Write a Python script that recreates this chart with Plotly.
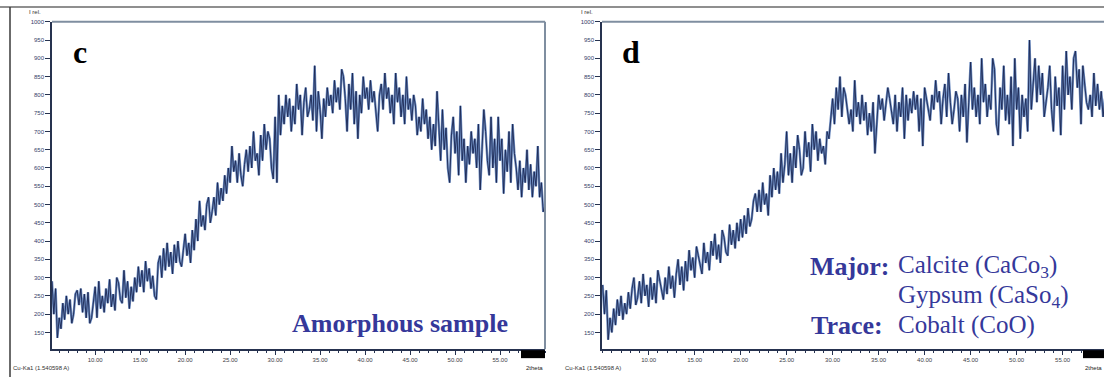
import plotly.graph_objects as go

# ---------------- data ----------------
two_theta_c_start = 5.2
intensity_c = [
    290, 200, 270, 135, 190,
    160, 230, 185, 250, 200,
    240, 175, 200, 255, 265,
    225, 270, 205, 255, 190,
    260, 175, 190, 240, 275,
    190, 290, 215, 250, 205,
    270, 230, 295, 220, 255,
    210, 300, 285, 240, 230,
    320, 245, 290, 215, 275,
    235, 300, 260, 330, 275,
    320, 260, 345, 290, 325,
    270, 305, 250, 240, 340,
    360, 300, 380, 320, 395,
    330, 370, 310, 390, 340,
    400, 345, 330, 375, 420,
    360, 395, 340, 430, 375,
    460, 400, 510, 440, 470,
    430, 500, 520, 450, 480,
    520, 470, 560, 500, 545,
    510, 580, 530, 600, 560,
    660, 590, 620, 560, 640,
    580, 550, 610, 650, 590,
    660, 600, 700, 620, 640,
    580, 690, 620, 720, 650,
    700, 680, 600, 570, 740,
    560, 800, 690, 770, 720,
    800, 740, 790, 700, 770,
    720, 830, 760, 800, 690,
    780, 820, 740, 760, 800,
    730, 880, 700, 810, 760,
    680, 790, 740, 820, 770,
    800, 750, 840, 780, 820,
    760, 870, 850, 790, 700,
    830, 760, 860, 720, 810,
    680, 800, 750, 850, 790,
    820, 760, 840, 780, 810,
    750, 700, 800, 830, 760,
    860, 790, 820, 750, 800,
    720, 860, 780, 820, 740,
    800, 720, 850, 760, 790,
    730, 800, 770, 690, 740,
    700, 790, 720, 760, 680,
    740, 650, 720, 660, 810,
    700, 620, 760, 650, 710,
    600, 560, 690, 740, 640,
    700, 580, 770, 620, 680,
    560, 660, 610, 700, 640,
    680, 600, 720, 540, 650,
    760, 700, 620, 580, 740,
    600, 680, 560, 740, 620,
    680, 530, 650, 590, 700,
    560, 720, 640, 600, 540,
    620, 520, 600, 560, 650,
    540, 610, 520, 590, 550,
    660, 520, 560, 480, 500,
]

two_theta_d_start = 5.0
intensity_d = [
    280, 200, 265, 130, 190,
    150, 215, 170, 240, 195,
    250, 185, 230, 200, 260,
    215, 270, 300, 225, 245,
    290, 230, 310, 250, 280,
    220, 300, 240, 285, 230,
    320, 290, 260, 240, 300,
    255, 330, 270, 305, 245,
    310, 350, 280, 330, 265,
    345, 290, 375, 320, 355,
    300, 385, 360, 330, 310,
    395, 340, 370, 320, 400,
    360, 420, 350, 390, 340,
    430, 410, 370, 360, 445,
    390, 430, 380, 450, 400,
    460, 410, 470, 420, 490,
    440, 460, 510, 530, 480,
    540, 480, 560, 500, 530,
    470, 580, 520, 600, 540,
    590, 530, 640, 560, 610,
    700, 580, 640, 560, 660,
    600, 690, 650, 580, 600,
    700, 630, 670, 590, 720,
    650, 700, 620, 680, 640,
    660, 610, 700, 680, 740,
    790, 720, 820, 760, 850,
    740, 820, 800, 750, 720,
    760, 700, 840, 740, 780,
    720, 800, 730, 780, 690,
    750, 700, 780, 640, 720,
    800, 760, 790, 730, 770,
    820, 790, 750, 720, 800,
    700, 780, 740, 820, 680,
    800, 730, 790, 750, 810,
    760, 800, 700, 790, 660,
    820, 790, 760, 730, 800,
    760, 840, 780, 810, 720,
    790, 830, 740, 860, 780,
    720, 760, 810, 790, 700,
    800, 740, 830, 670, 780,
    890, 760, 820, 740, 800,
    720, 900, 780, 830, 740,
    800, 760, 900, 870, 720,
    690, 820, 760, 880, 730,
    800, 720, 850, 660, 900,
    760, 820, 680, 800, 740,
    790, 700, 950, 760, 830,
    900, 780, 880, 800, 860,
    740, 780, 820, 880, 760,
    700, 850, 770, 820, 690,
    880, 760, 920, 800, 850,
    760, 900, 920, 820, 870,
    720, 880, 830, 780, 760,
    800, 740, 860, 770, 830,
    760, 810, 740, 790, 770,
]

step = 0.2
x_c = [round(two_theta_c_start + step * i, 2) for i in range(len(intensity_c))]
x_d = [round(two_theta_d_start + step * i, 2) for i in range(len(intensity_d))]

y_ticks = list(range(150, 1001, 50))
x_ticks = list(range(10, 56, 5))
x_tick_text = [f"{v:.2f}" for v in x_ticks]

# ---------------- geometry ----------------
W, H = 1104, 377
def px(x):
    return x / W
def py(y):
    return (H - y) / H

dom_c = [px(52), px(545)]
dom_d = [px(602), 1.0]
dom_y = [py(349), py(19)]

LIGHT = "#6f8ec2"
DARK = "#1b2752"
TXT = "#35389a"
AX = "#26324f"

fig = go.Figure()
for xs, ys, xa, ya in [(x_c, intensity_c, "x", "y"), (x_d, intensity_d, "x2", "y2")]:
    fig.add_trace(go.Scatter(x=xs, y=ys, xaxis=xa, yaxis=ya, mode="lines",
                             line=dict(color=LIGHT, width=2.4), hoverinfo="skip",
                             showlegend=False))
    fig.add_trace(go.Scatter(x=xs, y=ys, xaxis=xa, yaxis=ya, mode="lines",
                             line=dict(color=DARK, width=0.9),
                             showlegend=False))

xcommon = dict(showgrid=False, zeroline=False, showline=True, linecolor=AX, linewidth=1.5,
               ticks="outside", ticklen=4, tickwidth=1, tickcolor=AX,
               tickvals=x_ticks, ticktext=x_tick_text,
               tickfont=dict(size=6, color="#3c3c46", family="Liberation Sans"),
               minor=dict(dtick=1, ticks="outside", ticklen=2, tickcolor=AX))
ycommon = dict(showgrid=False, zeroline=False, showline=True, linecolor=AX, linewidth=1.5,
               ticks="outside", ticklen=5, tickwidth=1, tickcolor=AX,
               tickvals=y_ticks, ticktext=[str(v) for v in y_ticks],
               tickfont=dict(size=6, color="#34406a", family="Liberation Sans"),
               range=[104, 1000])

fig.update_layout(
    width=W, height=H, margin=dict(l=0, r=0, t=0, b=0),
    paper_bgcolor="white", plot_bgcolor="white",
    xaxis=dict(domain=dom_c, anchor="y", range=[5.2, 60.0], **xcommon),
    yaxis=dict(domain=dom_y, anchor="x", **ycommon),
    xaxis2=dict(domain=dom_d, anchor="y2", range=[4.93, 59.5], **xcommon),
    yaxis2=dict(domain=dom_y, anchor="x2", **ycommon),
)

shapes = []
def line(x0, y0, x1, y1, color, width):
    shapes.append(dict(type="line", xref="paper", yref="paper",
                       x0=px(x0), y0=py(y0), x1=px(x1), y1=py(y1),
                       line=dict(color=color, width=width)))
# outer frame
line(0, 4, W, 4, "#6a6a6a", 1.5)
line(10, 4, 10, H, "#3a3a3a", 1.5)
# plot frames (top / right)
line(52, 19, 545, 19, "#7f8ea0", 2)
line(545, 19, 545, 349, "#7f8ea0", 2)
line(602, 19, W, 19, "#7f8ea0", 2)
# black marker blocks
for x0, x1 in [(521, 545), (1083, 1104)]:
    shapes.append(dict(type="rect", xref="paper", yref="paper",
                       x0=px(x0), x1=px(x1), y0=py(358), y1=py(350),
                       fillcolor="black", line=dict(width=0)))
fig.update_layout(shapes=shapes)

ann = []
def text(x, y, s, size, color, family="Liberation Serif", bold=False, xanchor="left"):
    ann.append(dict(xref="paper", yref="paper", x=px(x), y=py(y), text=(f"<b>{s}</b>" if bold else s),
                    showarrow=False, xanchor=xanchor, yanchor="middle",
                    font=dict(size=size, color=color, family=family)))

sans = "Liberation Sans"
for off, right in [(0, 545), (552, 1104)]:
    text(27 + off, 9, "I rel.", 6, "#333333", sans)
    text(11 + off, 368, "Cu-Ka1 (1.540598 A)", 6, "#333333", sans)
    text(right, 368, "2theta", 6, "#222222", sans, xanchor="right")

text(80, 49, "c", 32, "black", bold=True, xanchor="center")
text(631, 49, "d", 32, "black", bold=True, xanchor="center")
text(400, 323, "Amorphous sample", 26, TXT, bold=True, xanchor="center")

text(808, 266, "Major:", 26, TXT, bold=True)
text(896, 266, "Calcite (CaCo<sub>3</sub>)", 25, TXT)
text(896, 296, "Gypsum (CaSo<sub>4</sub>)", 25, TXT)
text(809, 325, "Trace:", 26, TXT, bold=True)
text(896, 325, "Cobalt (CoO)", 25, TXT)
fig.update_layout(annotations=ann)

fig.write_html("out.html", config={"displayModeBar": False},
               post_script="document.body.style.margin='0';document.body.style.padding='0';")
